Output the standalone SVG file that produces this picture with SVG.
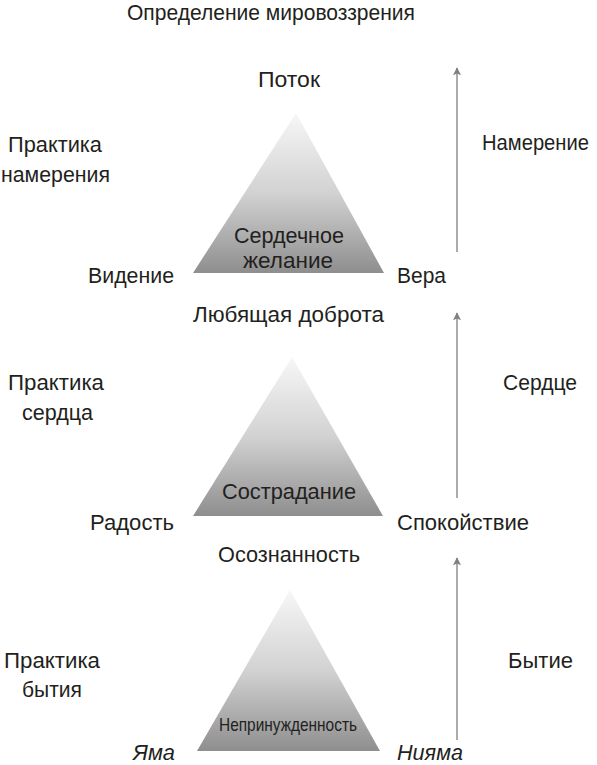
<svg xmlns="http://www.w3.org/2000/svg" width="597" height="765" viewBox="0 0 597 765">
<defs>
<linearGradient id="g" x1="0" y1="0" x2="0" y2="1">
<stop offset="0" stop-color="#f7f7f7"/>
<stop offset="0.5" stop-color="#d2d2d2"/>
<stop offset="1" stop-color="#8e8e8e"/>
</linearGradient>
<marker id="ah" viewBox="0 0 10 10" refX="9" refY="5" markerWidth="9" markerHeight="8" markerUnits="userSpaceOnUse" orient="auto">
<path d="M0,0 L10,5 L0,10 L2,5 Z" fill="#7f7f7f"/>
</marker>
<style>
text{font-family:"Liberation Sans Narrow","Liberation Sans",Arial,sans-serif;font-size:22px;fill:#231f20}
.i{font-style:italic}
.s{font-size:19px}
.tri{fill:url(#g)}
.arr{stroke:#7f7f7f;stroke-width:1.3;fill:none;marker-end:url(#ah)}
</style>
</defs>
<rect width="597" height="765" fill="#ffffff"/>
<text x="127" y="20" textLength="288" lengthAdjust="spacingAndGlyphs">Определение мировоззрения</text>
<g id="top">
<polygon class="tri" points="296,113 193,273 384,273"/>
<text x="258" y="87" textLength="62" lengthAdjust="spacingAndGlyphs">Поток</text>
<text x="234" y="243" textLength="110" lengthAdjust="spacingAndGlyphs">Сердечное</text>
<text x="243" y="268" textLength="90" lengthAdjust="spacingAndGlyphs">желание</text>
<text x="88" y="283" textLength="86" lengthAdjust="spacingAndGlyphs">Видение</text>
<text x="397" y="283" textLength="49" lengthAdjust="spacingAndGlyphs">Вера</text>
<text x="8" y="152" textLength="94" lengthAdjust="spacingAndGlyphs">Практика</text>
<text x="1" y="182" textLength="109" lengthAdjust="spacingAndGlyphs">намерения</text>
<text x="589" y="150" font-size="21" text-anchor="end" textLength="107" lengthAdjust="spacingAndGlyphs">Намерение</text>
</g>
<g id="middle">
<polygon class="tri" points="292,357 193,516 383,516"/>
<text x="193" y="322" textLength="191" lengthAdjust="spacingAndGlyphs">Любящая доброта</text>
<text x="222" y="499" textLength="134" lengthAdjust="spacingAndGlyphs">Сострадание</text>
<text x="90" y="530" textLength="84" lengthAdjust="spacingAndGlyphs">Радость</text>
<text x="397" y="530" textLength="132" lengthAdjust="spacingAndGlyphs">Спокойствие</text>
<text x="8" y="390" textLength="96" lengthAdjust="spacingAndGlyphs">Практика</text>
<text x="22" y="420" textLength="71" lengthAdjust="spacingAndGlyphs">сердца</text>
<text x="503" y="390" textLength="74" lengthAdjust="spacingAndGlyphs">Сердце</text>
</g>
<g id="bottom">
<polygon class="tri" points="290,590 197,751 380,751"/>
<text x="218" y="562" textLength="142" lengthAdjust="spacingAndGlyphs">Осознанность</text>
<text class="s" x="219" y="731" textLength="138" lengthAdjust="spacingAndGlyphs">Непринужденность</text>
<text class="i" x="133" y="760" textLength="42" lengthAdjust="spacingAndGlyphs">Яма</text>
<text class="i" x="397" y="760" textLength="66" lengthAdjust="spacingAndGlyphs">Нияма</text>
<text x="4" y="668" textLength="96" lengthAdjust="spacingAndGlyphs">Практика</text>
<text x="22" y="697" textLength="60" lengthAdjust="spacingAndGlyphs">бытия</text>
<text x="508" y="668" textLength="65" lengthAdjust="spacingAndGlyphs">Бытие</text>
</g>
<g id="connectors">
<line class="arr" x1="457" y1="252" x2="457" y2="68"/>
<line class="arr" x1="457" y1="498" x2="457" y2="313"/>
<line class="arr" x1="457" y1="740" x2="457" y2="558"/>
</g>
</svg>
